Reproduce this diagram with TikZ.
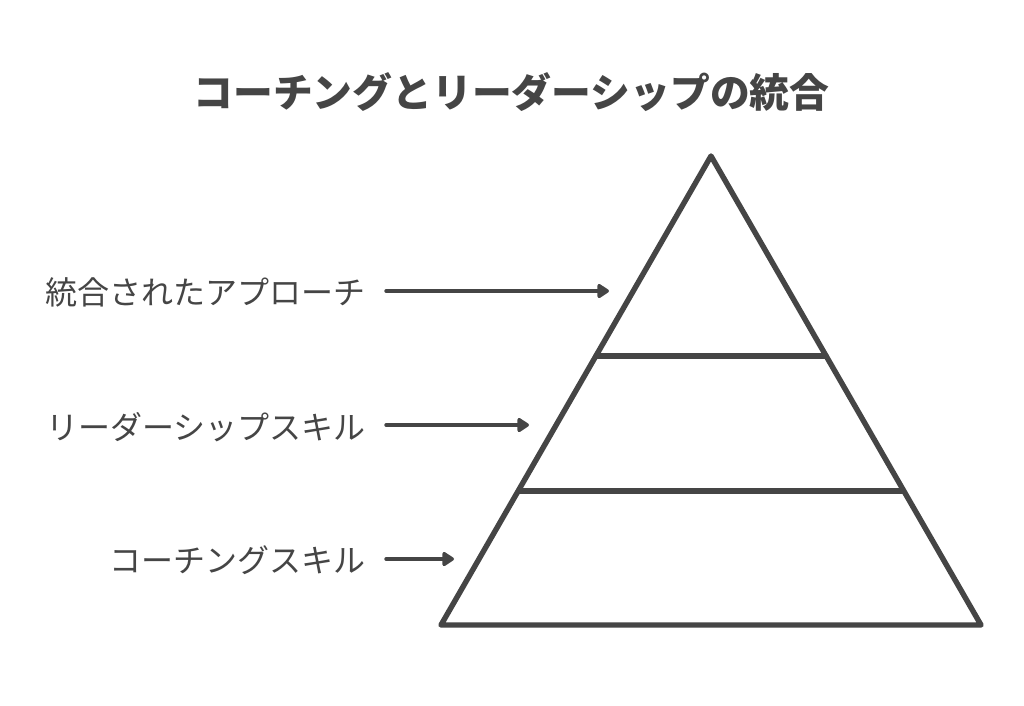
\documentclass[tikz,border=0pt]{standalone}
\usepackage{fontspec}
\newfontfamily\jp{Noto Sans CJK JP}
\usetikzlibrary{arrows.meta}
\definecolor{ink}{HTML}{454545}
\tikzset{
  edge/.style={draw=ink,line width=5.4pt,line cap=round,line join=round},
  lbl/.style={anchor=east,text=ink,font=\jp\fontsize{32}{38}\selectfont,inner sep=0pt},
  pointer/.style={draw=ink,line width=3.4pt,line cap=round,-{Triangle[length=13pt,width=16pt,round]}}
}
\begin{document}
\begin{tikzpicture}[x=1pt,y=-1pt]
\useasboundingbox[fill=white] (0,0) rectangle (1024,705);
\node[text=ink,font=\jp\bfseries\fontsize{39.8}{46}\selectfont,inner sep=0pt] (title) at (511.5,92) {コーチングとリーダーシップの統合};
\coordinate (apex) at (711,156);
\coordinate (bl) at (441,625);
\coordinate (br) at (981,625);
\coordinate (d1l) at (596,356);
\coordinate (d1r) at (826,356);
\coordinate (d2l) at (519,491);
\coordinate (d2r) at (903,491);
\draw[edge] (apex) -- (br) -- (bl) -- cycle;
\draw[edge] (d1l) -- (d1r);
\draw[edge] (d2l) -- (d2r);
\node[lbl] (l1) at (366,292) {統合されたアプローチ};
\node[lbl] (l2) at (366,427) {リーダーシップスキル};
\node[lbl] (l3) at (366,560) {コーチングスキル};
\coordinate (t1) at (609,291);
\coordinate (t2) at (529,425);
\coordinate (t3) at (454,559);
\draw[pointer] ([xshift=20pt]l1.east |- t1) -- (t1);
\draw[pointer] ([xshift=20pt]l2.east |- t2) -- (t2);
\draw[pointer] ([xshift=20pt]l3.east |- t3) -- (t3);
\end{tikzpicture}
\end{document}
